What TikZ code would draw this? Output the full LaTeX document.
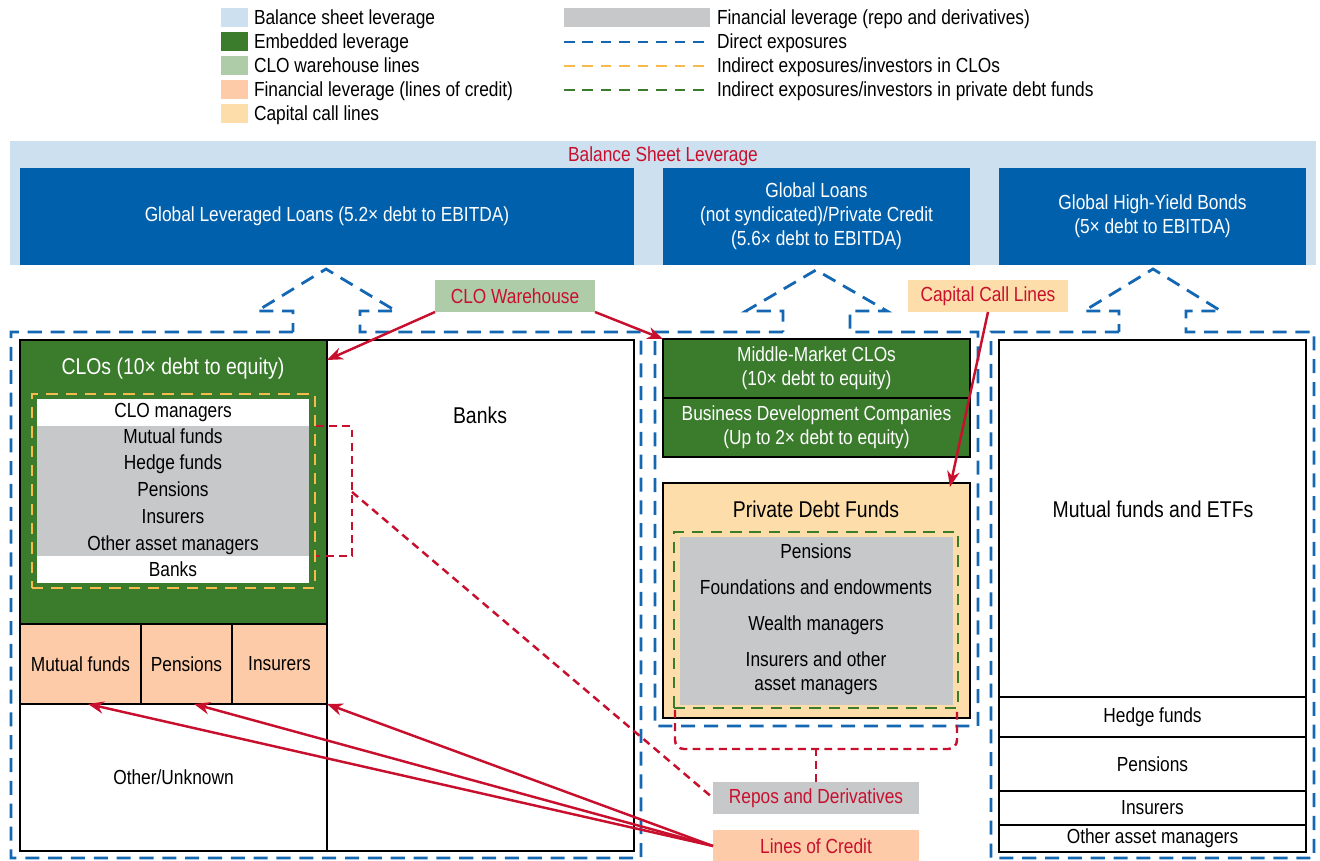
\documentclass[tikz,border=0pt]{standalone}
\usepackage{fontspec}
\setmainfont[FakeStretch=0.85]{Liberation Sans}
\usetikzlibrary{arrows.meta}

\definecolor{bslight}{HTML}{CDE0EF}
\definecolor{bsblue}{HTML}{0060AC}
\definecolor{dashblue}{HTML}{1467B3}
\definecolor{embgreen}{HTML}{3A7B2C}
\definecolor{whgreen}{HTML}{AFCCA9}
\definecolor{locpeach}{HTML}{FDCBA8}
\definecolor{ccorange}{HTML}{FDDDA9}
\definecolor{replgray}{HTML}{C7C8CA}
\definecolor{imfred}{HTML}{C8102E}
\definecolor{cloorange}{HTML}{F7BA4C}

\tikzset{
  sz/.style 2 args={minimum width={#1*0.02cm},minimum height={#2*0.02cm}},
  every node/.style={inner sep=0pt,outer sep=0pt,font=\fontsize{11.6}{13.6}\selectfont},
  ln/.style={text height=8.6pt,text depth=2.4pt},
  cell/.style={draw=black,line width=0.8pt,anchor=north west},
  bigtxt/.style={font=\fontsize{13}{15}\selectfont},
  dirdash/.style={draw=dashblue,line width=1.6pt,dash pattern=on 8pt off 5pt},
  clodash/.style={draw=cloorange,line width=1.6pt,dash pattern=on 6.5pt off 4.5pt},
  pddash/.style={draw=embgreen,line width=1.6pt,dash pattern=on 6.5pt off 4.5pt},
  repdash/.style={draw=imfred,line width=1.4pt,dash pattern=on 4.5pt off 3pt},
  credarrow/.style={imfred,line width=1.4pt,-{Stealth[length=9pt,width=7pt]}},
  lbl/.style={text=imfred,sz={160}{32}},
  swatch/.style={sz={27}{19}},
}

\begin{document}
\begin{tikzpicture}[x=0.02cm,y=-0.02cm]
  \useasboundingbox (0,0) rectangle (1320,861);

  % legende
  \foreach \c/\t [count=\i] in {bslight/Balance sheet leverage,embgreen/Embedded leverage,whgreen/CLO warehouse lines,locpeach/Financial leverage (lines of credit),ccorange/Capital call lines} {
    \node[swatch,fill=\c] (sw\i) at (234,{18+24*(\i-1)}) {};
    \node[ln,anchor=west] (key\i) at (254,{19+24*(\i-1)}) {\t};
  }
  \node[fill=replgray,sz={146}{19}] (sw6) at (637,18) {};
  \node[ln,anchor=west] (key6) at (717,19) {Financial leverage (repo and derivatives)};
  \foreach \c [count=\i] in {dashblue,cloorange,embgreen}
    \draw[\c,line width=1.6pt,dash pattern=on 6pt off 4.5pt] (564,{18+24*\i}) -- (710,{18+24*\i});
  \node[ln,anchor=west] (key7) at (717,43) {Direct exposures};
  \node[ln,anchor=west] (key8) at (717,67) {Indirect exposures/investors in CLOs};
  \node[ln,anchor=west] (key9) at (717,91) {Indirect exposures/investors in private debt funds};

  % balance sheet leverage
  \node[fill=bslight,sz={1306}{124},anchor=north west] (bsl) at (10,141) {};
  \node[text=imfred] (bsl-lbl) at (663,156) {Balance Sheet Leverage};
  \node[fill=bsblue,text=white,sz={614}{97},anchor=north west] (gll) at (20,168) {Global Leveraged Loans (5.2× debt to EBITDA)};
  \node[fill=bsblue,text=white,align=center,sz={307}{97},anchor=north west] (glp) at (663,168) {Global Loans\\(not syndicated)/Private Credit\\(5.6× debt to EBITDA)};
  \node[fill=bsblue,text=white,align=center,sz={307}{97},anchor=north west] (ghy) at (999,168) {Global High-Yield Bonds\\(5× debt to EBITDA)};

  % direkte Exposures
  \draw[dirdash] (293,332) -- (11,332) -- (11,858) -- (641,858) -- (641,332) -- (360,332) -- (360,311) -- (396,311) -- (326,269) -- (257,311) -- (293,311) -- cycle;
  \draw[dirdash] (783,332) -- (655,332) -- (655,726) -- (978,726) -- (978,332) -- (850,332) -- (850,311) -- (887,311) -- (816,270) -- (746,311) -- (783,311) -- cycle;
  \draw[dirdash] (1119,332) -- (991,332) -- (991,858) -- (1314,858) -- (1314,332) -- (1186,332) -- (1186,311) -- (1221,311) -- (1153,269) -- (1084,311) -- (1119,311) -- cycle;

  % CLOs und Banken
  \node[cell,fill=embgreen,sz={307}{284}] (clo) at (20,340) {};
  \node[bigtxt,text=white] (clo-lbl) at (173,369) {CLOs (10× debt to equity)};
  \node[clodash,sz={283}{194},anchor=north west] (cloinv) at (32,394) {};
  \node[fill=white,sz={272}{184},anchor=north west] (cloinvw) at (37,399) {};
  \node[fill=replgray,sz={272}{130},anchor=north west] (cloinvg) at (37,426) {};
  \foreach \t/\y [count=\i] in {CLO managers/412,Mutual funds/438,Hedge funds/464,Pensions/491,Insurers/518,Other asset managers/545,Banks/571}
    \node[ln] (cloinv\i) at (173,\y) {\t};
  \node[cell,fill=locpeach,sz={121}{80}] (mfcell) at (20,624) {Mutual funds};
  \node[cell,fill=locpeach,sz={91}{80}] (penscell) at (141,624) {Pensions};
  \node[cell,fill=locpeach,sz={95}{80}] (inscell) at (232,624) {Insurers};
  \node[cell,sz={307}{147}] (othcell) at (20,704) {Other/Unknown};
  \node[cell,sz={307}{511}] (banks) at (327,340) {};
  \node[bigtxt] (banks-lbl) at (480,415) {Banks};

  % private credit
  \node[cell,fill=embgreen,text=white,align=center,sz={307}{59}] (mmclo) at (663,339) {Middle-Market CLOs\\(10× debt to equity)};
  \node[cell,fill=embgreen,text=white,align=center,sz={307}{59}] (bdc) at (663,398) {Business Development Companies\\(Up to 2× debt to equity)};
  \node[cell,fill=ccorange,sz={307}{235}] (pdf) at (663,483) {};
  \node[bigtxt] (pdf-lbl) at (816,509) {Private Debt Funds};
  \node[pddash,sz={284}{176},anchor=north west] (pdinv) at (674,532) {};
  \node[fill=replgray,sz={273}{168},anchor=north west] (pdinvg) at (680,537) {};
  \node[ln] (pdinv1) at (816,553) {Pensions};
  \node[ln] (pdinv2) at (816,589) {Foundations and endowments};
  \node[ln] (pdinv3) at (816,625) {Wealth managers};
  \node[align=center] (pdinv4) at (816,673) {Insurers and other\\asset managers};

  % high-yield
  \node[cell,sz={307}{357}] (mfetf) at (999,340) {};
  \node[bigtxt] (mfetf-lbl) at (1153,509) {Mutual funds and ETFs};
  \node[cell,sz={307}{40}] (hfcell) at (999,697) {Hedge funds};
  \node[cell,sz={307}{54}] (pncell) at (999,737) {Pensions};
  \node[cell,sz={307}{34}] (incell) at (999,791) {Insurers};
  \node[cell,sz={307}{27}] (oacell) at (999,825) {Other asset managers};

  % Finanzierung
  \node[lbl,fill=whgreen] (wh) at (515,296) {CLO Warehouse};
  \node[lbl,fill=ccorange] (ccl) at (988,296) {Capital Call Lines};
  \node[fill=replgray,text=imfred,sz={206}{32}] (repos) at (816,798) {Repos and Derivatives};
  \node[fill=locpeach,text=imfred,sz={206}{32}] (loc) at (816,846) {Lines of Credit};

  \draw[repdash] (316,426) -- (352,426) -- (352,556) -- (316,556);
  \coordinate (brk) at (352,492);
  \draw[repdash] (brk) -- (repos.west);
  \draw[repdash,rounded corners=5pt] (675,710) -- (675,749) -- (957,749) -- (957,710);
  \draw[repdash] (repos.north) -- (816,749);

  \coordinate (cloin) at (327,360);
  \coordinate (pdfin) at (950,487);
  \draw[credarrow] (wh.south west) -- (cloin);
  \draw[credarrow] (wh.south east) -- (mmclo.north west);
  \draw[credarrow] (ccl.south) -- (pdfin);
  \foreach \tgt in {mfcell,penscell}
    \draw[credarrow] (loc.west) -- ([xshift=0.15cm]\tgt.south);
  \draw[credarrow] (loc.west) -- (inscell.south east);
\end{tikzpicture}
\end{document}
